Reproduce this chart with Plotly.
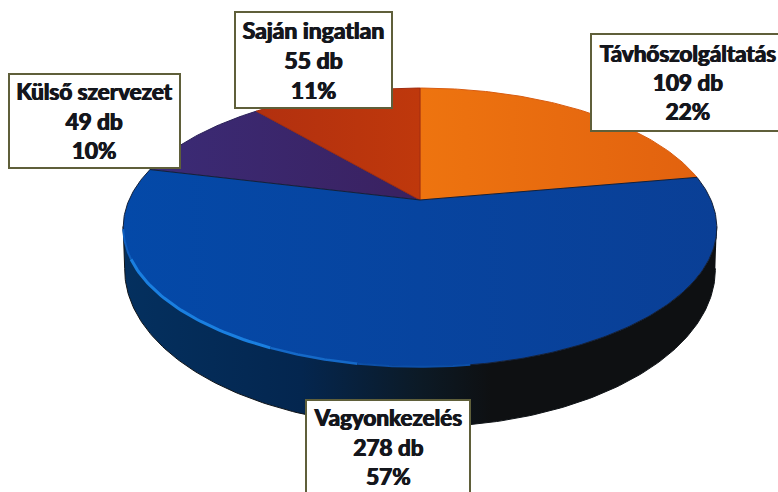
import numpy as np
import plotly.graph_objects as go

# --- data (clockwise from 12 o'clock) ---
categories = ["Távhőszolgáltatás", "Vagyonkezelés", "Külső szervezet", "Saján ingatlan"]
counts = [109, 278, 49, 55]
top_colors = [("#ee740f", "#e2620f"), ("#0449a8", "#0a3f96"), ("#3b2b76", "#3a2160"), ("#b2300f", "#bf380c")]
edge_colors = ["#d85c10", "#14213a", "#2a2058", "#a02c10"]
draw_order = [0, 2, 3, 1]
label_centers = [(688, 82), (388, 447), (94, 120.5), (313, 60)]
label_widths = [192, 162, 169, 155]
label_heights = [95, 92, 92, 94]
label_sizes = [22.5, 22.5, 22.5, 23]

# --- projection of the tilted disc onto the page ---
X0, Y0 = 420.0, 200.0
A, B, K = 291.0, 134.0, 0.197
RIM_CY, SIDE_CY, SIDE_SX, SIDE_SY = 228.0, 270.0, 0.995, 1.13


def project(theta_deg):
    t = np.radians(theta_deg)
    u, v = np.sin(t), np.cos(t)
    d = 1 + K * v
    return X0 + A * u / d, Y0 - B * v / d


total = sum(counts)
bounds = np.concatenate([[0], np.cumsum(counts)]) / total * 360.0

fig = go.Figure()

# side wall
th = np.linspace(101, 259, 200)
rx, ry = project(th)
bx = X0 + SIDE_SX * (rx - X0)
by = SIDE_CY + SIDE_SY * (ry - RIM_CY)
fig.add_trace(go.Scatter(
    x=np.concatenate([rx, bx[::-1]]), y=np.concatenate([ry, by[::-1]]),
    mode="lines", fill="toself", line=dict(width=1, color="#101418"),
    fillgradient=dict(type="horizontal", colorscale=[
        [0, "#04305f"], [0.3, "#04264f"], [0.5, "#0c1a26"], [0.62, "#0e1012"], [1, "#0e1012"]]),
    hoverinfo="skip", showlegend=False))

# top surface slices
for i in draw_order:
    th = np.linspace(bounds[i], bounds[i + 1], max(int(counts[i]), 40))
    px, py = project(th)
    fig.add_trace(go.Scatter(
        x=np.concatenate([[X0], px, [X0]]), y=np.concatenate([[Y0], py, [Y0]]),
        mode="lines", fill="toself", name=categories[i],
        line=dict(width=1, color=edge_colors[i]),
        fillgradient=dict(type="horizontal", colorscale=[[0, top_colors[i][0]], [1, top_colors[i][1]]]),
        hoverinfo="skip", showlegend=False))

# bright rim highlight at lower left
for a, b, c, w in [(258, 246, "#0f5fc0", 2), (246, 205, "#1a7fe0", 3), (205, 190, "#1569c8", 2.5), (190, 172, "#0c4fa8", 2)]:
    hx, hy = project(np.linspace(a, b, 40))
    fig.add_trace(go.Scatter(x=hx, y=hy, mode="lines", line=dict(width=w, color=c),
                             hoverinfo="skip", showlegend=False))

annotations = []
for i, name in enumerate(categories):
    pct = round(counts[i] / total * 100)
    annotations.append(dict(
        x=label_centers[i][0], y=label_centers[i][1], xref="x", yref="y",
        text=f"<b>{name}</b><br><b>{counts[i]} db</b><br><b>{pct}%</b>",
        showarrow=False, width=label_widths[i], height=label_heights[i],
        align="center", valign="middle", bgcolor="#ffffff",
        bordercolor="#5f5f3a", borderwidth=2, borderpad=0,
        font=dict(family="Lato", size=label_sizes[i], color="#14161c",
                  shadow="0.6px 0 0 #14161c, -0.6px 0 0 #14161c")))

fig.update_layout(
    width=778, height=492, margin=dict(l=0, r=0, t=0, b=0),
    paper_bgcolor="#ffffff", plot_bgcolor="#ffffff", showlegend=False,
    xaxis=dict(range=[0, 778], visible=False, fixedrange=True),
    yaxis=dict(range=[492, 0], visible=False, fixedrange=True),
    annotations=annotations)

fig.write_html("out.html", config=dict(displayModeBar=False),
               post_script="document.body.style.margin='0';")
